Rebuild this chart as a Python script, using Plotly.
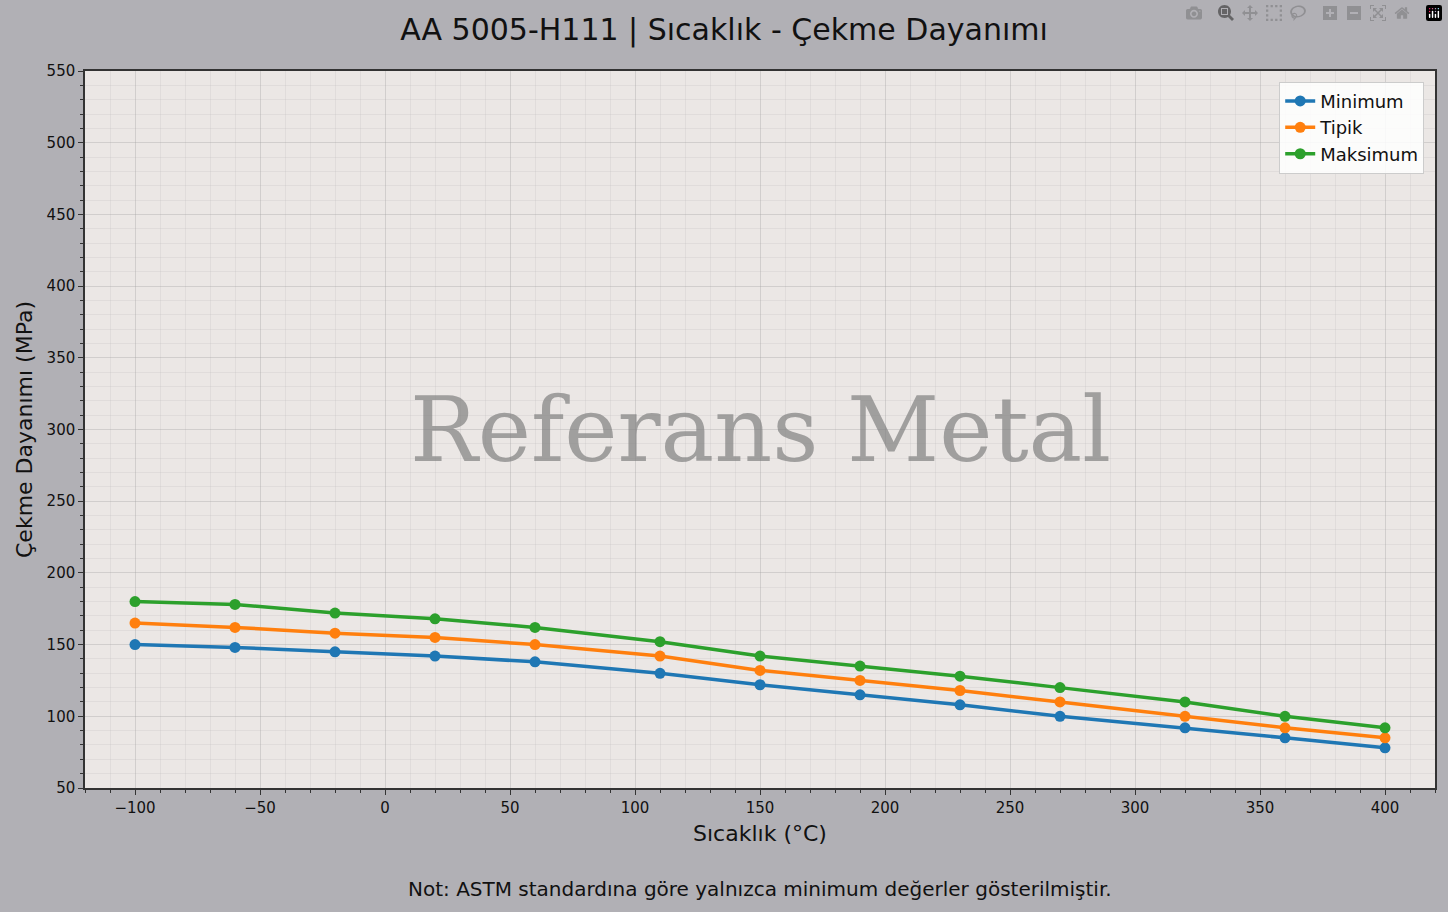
import plotly.graph_objects as go

temps = [-100, -60, -20, 20, 60, 110, 150, 190, 230, 270, 320, 360, 400]
minimum = [150, 148, 145, 142, 138, 130, 122, 115, 108, 100, 92, 85, 78]
tipik = [165, 162, 158, 155, 150, 142, 132, 125, 118, 110, 100, 92, 85]
maksimum = [180, 178, 172, 168, 162, 152, 142, 135, 128, 120, 110, 100, 92]

series = [("Minimum", minimum, "#1f77b4"), ("Tipik", tipik, "#ff7f0e"), ("Maksimum", maksimum, "#2ca02c")]

fig = go.Figure()
for name, vals, col in series:
    fig.add_trace(go.Scatter(x=temps, y=vals, name=name, mode="lines+markers",
                             line=dict(color=col, width=3.5), marker=dict(size=11, color=col)))

def axis_style():
    return dict(showline=True, linecolor="#333", linewidth=1.5, mirror=True,
                ticks="outside", ticklen=5, tickcolor="#333",
                gridcolor="rgba(160,160,160,0.35)", gridwidth=1, zeroline=False,
                tickfont=dict(size=15, color="#111"), dtick=50,
                minor=dict(dtick=10, showgrid=True, gridcolor="rgba(180,180,180,0.2)",
                           ticks="outside", ticklen=3, tickcolor="#333"))

fig.update_layout(
    width=1448, height=912,
    paper_bgcolor="#b1b0b5", plot_bgcolor="#ebe7e5",
    font=dict(family="DejaVu Sans", color="#111"),
    margin=dict(l=85, r=11, t=71, b=124),
    title=dict(text="AA 5005-H111 | Sıcaklık - Çekme Dayanımı", x=0.5, xanchor="center", y=0.968, yanchor="middle",
               font=dict(size=30, color="#111")),
    legend=dict(x=0.992, y=0.985, xanchor="right", yanchor="top", bgcolor="rgba(255,255,255,0.85)",
                bordercolor="#ccc", borderwidth=1, font=dict(size=18)),
    showlegend=True,
)
fig.update_xaxes(title=dict(text="Sıcaklık (°C)", font=dict(size=22), standoff=10), range=[-120, 420], **axis_style())
fig.update_yaxes(title=dict(text="Çekme Dayanımı (MPa)", font=dict(size=22), standoff=8), range=[50, 550], **axis_style())

fig.add_annotation(text="Referans Metal", x=0.5, y=0.5, xref="paper", yref="paper", showarrow=False,
                   font=dict(family="DejaVu Serif", size=90, color="rgba(128,128,128,0.7)"))
fig.add_annotation(text="Not: ASTM standardına göre yalnızca minimum değerler gösterilmiştir.",
                   x=0.5, y=-0.141, xref="paper", yref="paper", yanchor="middle", showarrow=False,
                   font=dict(size=20, color="#111"))

fig.write_html("out.html")
with open("out.html", encoding="utf-8") as f:
    html = f.read()
html = html.replace("<body>", '<body style="margin:0;overflow:hidden">', 1)
with open("out.html", "w", encoding="utf-8") as f:
    f.write(html)
